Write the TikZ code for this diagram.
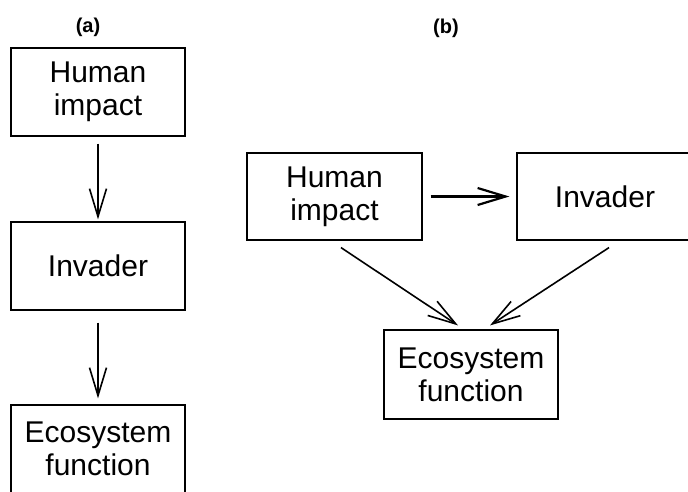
\documentclass[tikz,border=0pt]{standalone}
\usepackage{fontspec}
\setmainfont{Liberation Sans}
\usetikzlibrary{arrows.meta,calc}
\tikzset{
  box/.style={draw,line width=1.2pt,minimum width=174pt,minimum height=88pt,
    align=center,inner sep=0pt,font=\fontsize{30}{33}\selectfont},
  tag/.style={font=\fontsize{20}{22}\selectfont\bfseries},
  link/.style={line width=1.6pt,-{Straight Barb[length=28pt,width=17pt]}},
}
\begin{document}
\begin{tikzpicture}[x=1pt,y=-1pt]
      \useasboundingbox (0,0) rectangle (688,491);
      \clip (0,0) rectangle (688,491);
      % panel a
      \node[tag] (taga) at (88,27) {(a)};
      \node[box] (ha) at (98,92) {Human\\impact};
      \node[box] (ia) at (98,266) {Invader};
      \node[box] (ea) at (98,449) {Ecosystem\\function};
      \draw[link,shorten <=7pt,shorten >=2pt] (ha) -- (ia);
      \draw[link,shorten <=12pt,shorten >=6pt] (ia) -- (ea);
      % panel b
      \node[tag] (tagb) at (446,28) {(b)};
      \node[box,minimum width=175pt,minimum height=87pt] (hb) at (334.5,196.5) {Human\\impact};
      \node[box,minimum width=176pt,minimum height=87pt] (ib) at (605,196.5) {Invader};
      \node[box,minimum height=89pt] (eb) at (471,374.5) {Ecosystem\\function};
      \draw[link,line width=2.2pt,shorten <=8pt,shorten >=7pt] (hb) -- (ib);
      \draw[link] ($(hb.south)+(6.5,7)$) -- ($(eb.north)+(-13,-4)$);
      \draw[link] ($(ib.south)+(4,7)$) -- ($(eb.north)+(19,-4)$);
\end{tikzpicture}
\end{document}
